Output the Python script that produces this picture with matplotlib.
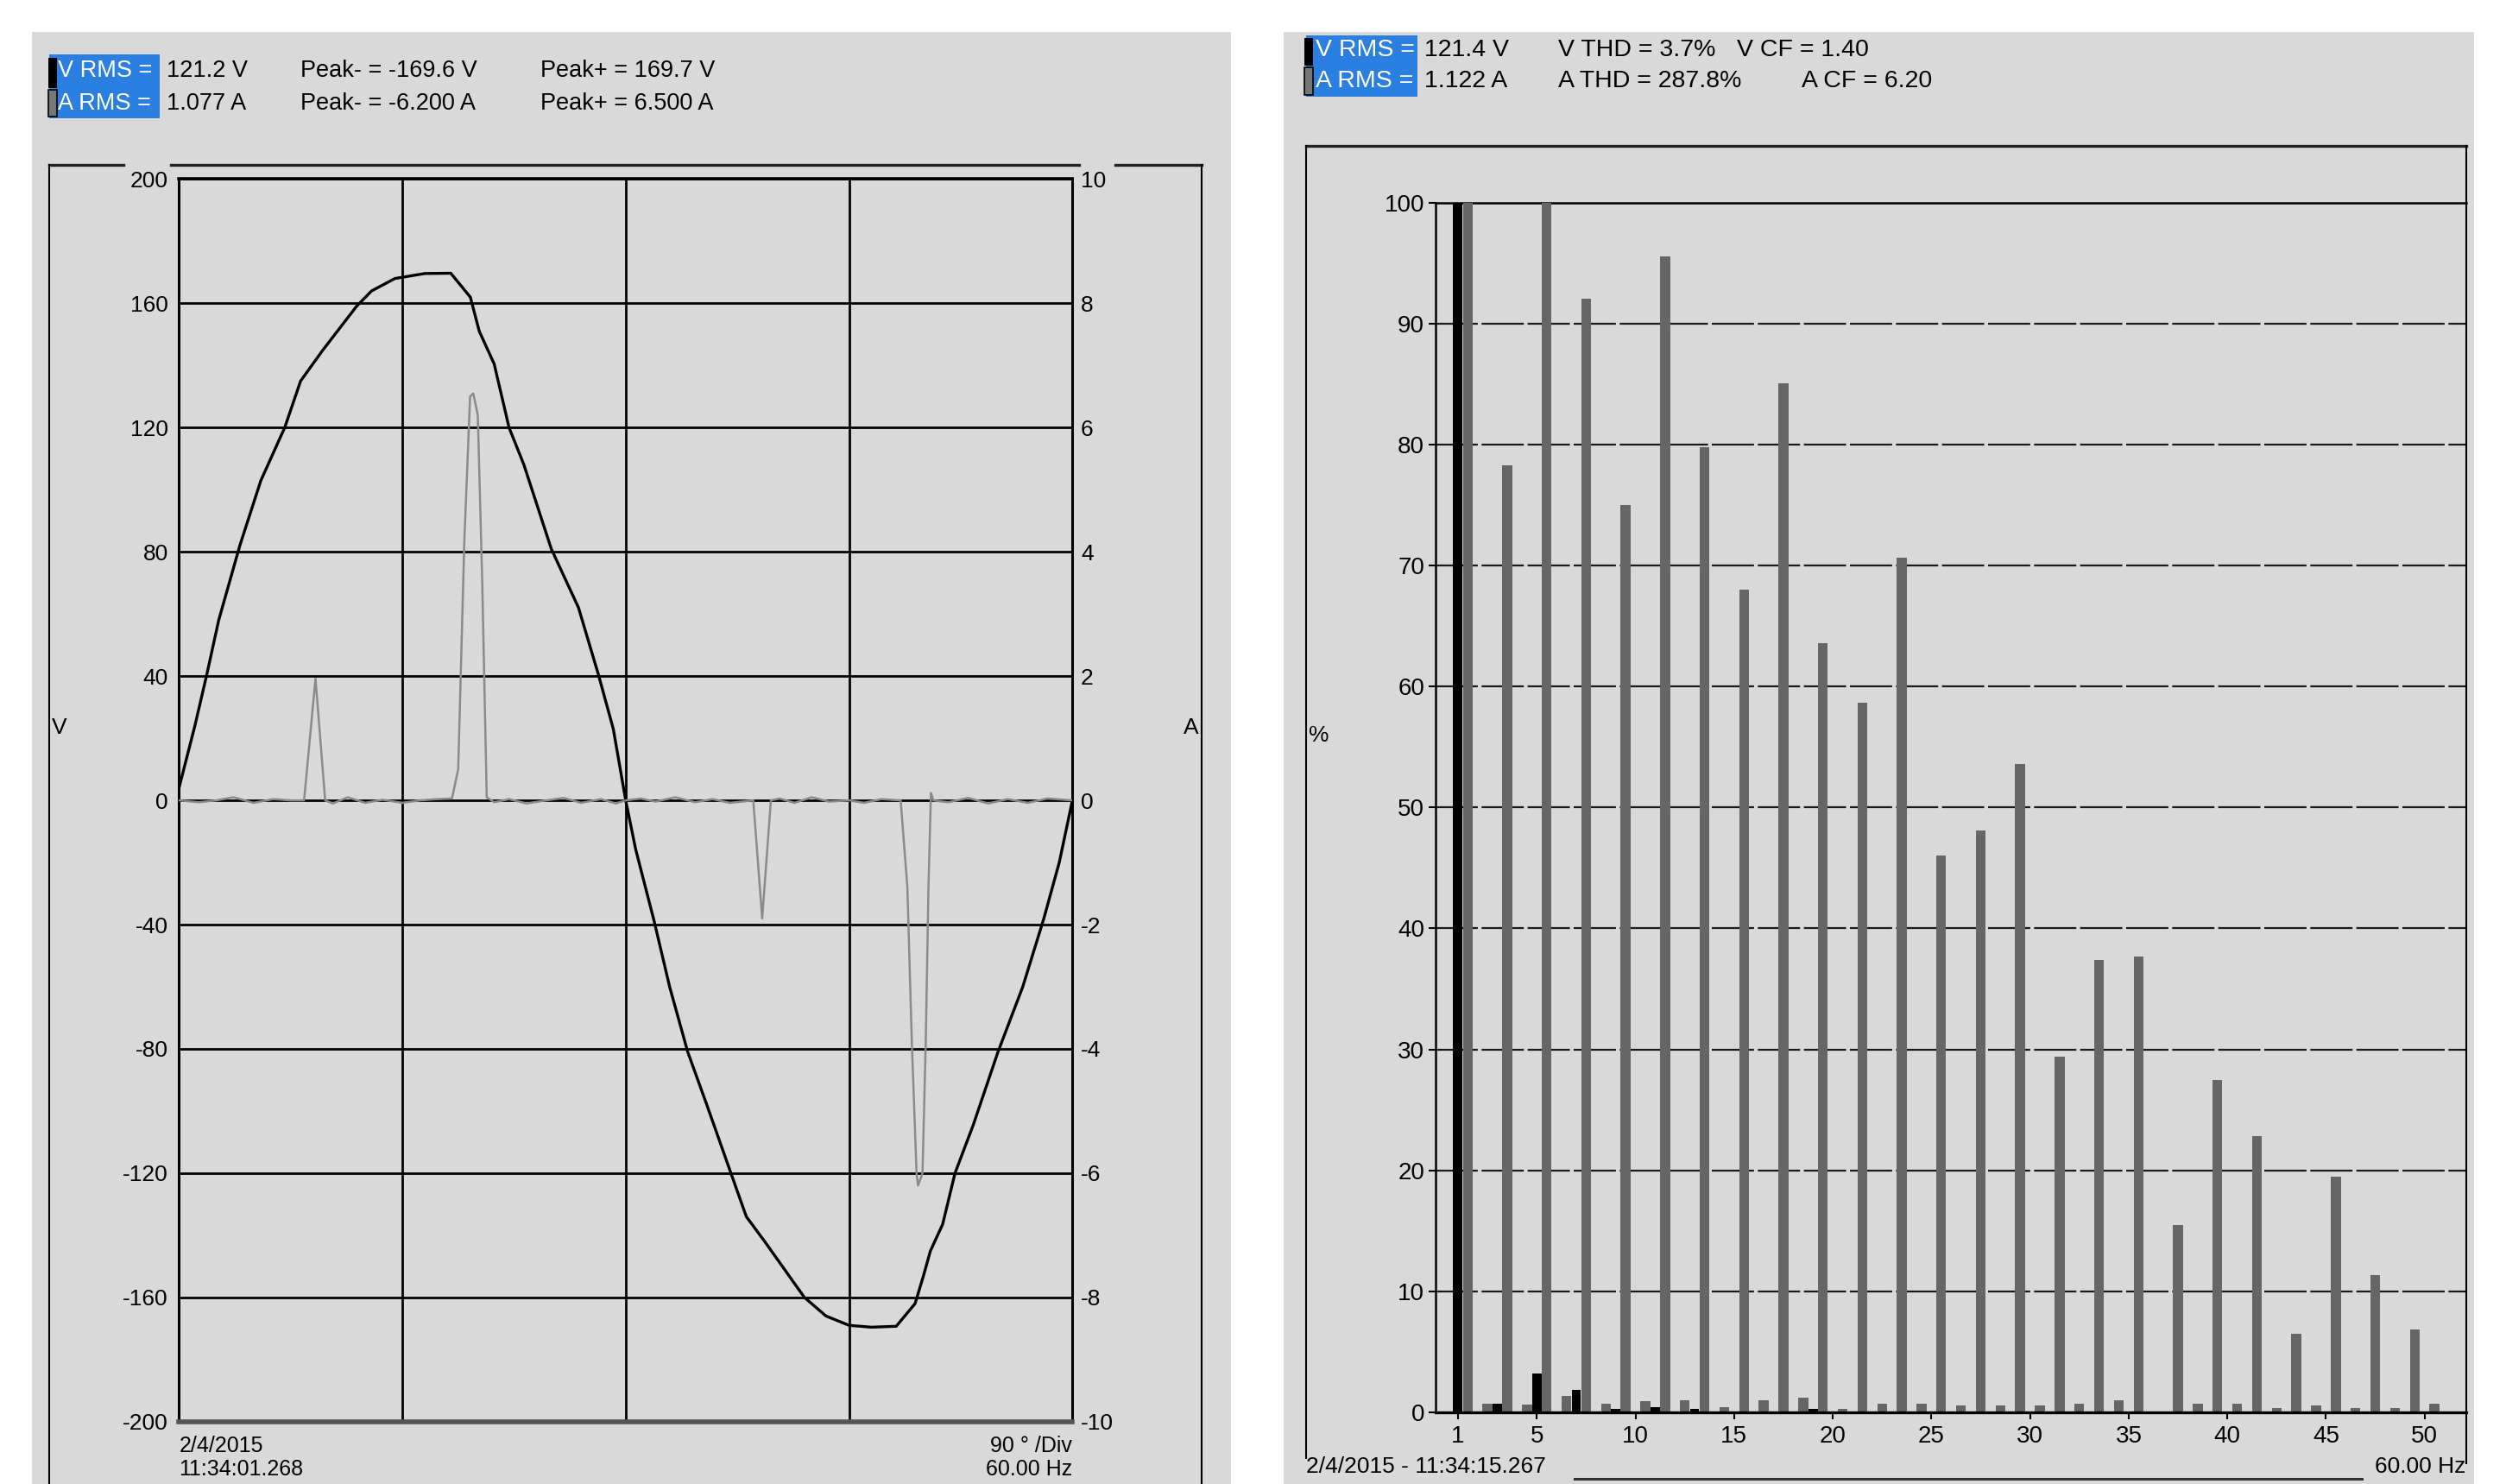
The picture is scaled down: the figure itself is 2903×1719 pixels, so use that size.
import matplotlib
matplotlib.use("Agg")
import matplotlib.pyplot as plt
from matplotlib.lines import Line2D
from matplotlib.patches import Rectangle

plt.rcParams["font.family"] = ["Liberation Sans", "DejaVu Sans"]
plt.rcParams["axes.unicode_minus"] = False

# waveform: (degrees, volts)
VOLTAGE_TRACE = [
    (0, 4), (6.4, 24), (11.2, 40.5), (16, 58), (24.5, 82), (33, 103), (42.6, 120),
    (49, 135), (58, 145), (71.5, 159), (77.6, 164), (87, 168), (99, 169.6),
    (109.5, 169.7), (117.4, 162), (121, 151), (127, 140.5), (133, 120), (139, 108),
    (150, 81), (161, 62), (169, 40.5), (175, 23), (180, 0), (184, -15.7),
    (191.5, -39), (197.7, -60), (205, -81), (212.5, -97.6), (222.4, -120),
    (228.6, -134), (236, -142), (252, -160), (260.7, -166), (270, -169),
    (279, -169.6), (289, -169.3), (296.6, -162), (300, -153), (302.8, -145),
    (307.7, -136.5), (312.7, -120), (320, -104.6), (330, -81), (340, -60),
    (348.5, -38), (354.7, -20), (360, 0),
]

# waveform: (degrees, amps)
CURRENT_TRACE = [
    (0, 0), (8, -0.03), (15, 0), (22, 0.05), (30, -0.04), (38, 0.02), (45, 0),
    (50.4, 0), (55, 1.96), (58.9, 0), (62, -0.05), (68, 0.05), (75, -0.04),
    (82, 0.01), (90, -0.04), (97, 0), (104, 0.02), (110, 0.03), (112.5, 0.5),
    (115, 4.2), (117.3, 6.5), (118.6, 6.55), (120.4, 6.2), (122.2, 3.5),
    (124, 0.05), (127, -0.03), (133, 0.02), (140, -0.05), (148, 0), (155, 0.04),
    (162, -0.04), (170, 0.02), (176, -0.05), (180, 0), (186, 0.03), (192, -0.02),
    (200, 0.05), (208, -0.03), (215, 0.02), (222, -0.04), (231.4, 0), (235, -1.9),
    (238.5, 0), (242, 0.03), (248, -0.04), (255, 0.05), (262, -0.02), (270, 0),
    (276, -0.04), (283, 0.02), (290.8, 0), (293.5, -1.4), (295.3, -3.9),
    (297.2, -6.0), (297.8, -6.2), (299.6, -6.0), (300.9, -3.9), (302, -1.4),
    (303, 0.12), (304, 0), (310, -0.03), (318, 0.04), (326, -0.05), (334, 0.02),
    (342, -0.04), (350, 0.03), (360, 0),
]

V_TICKS = [200, 160, 120, 80, 40, 0, -40, -80, -120, -160, -200]
A_TICKS = [10, 8, 6, 4, 2, 0, -2, -4, -6, -8, -10]

HARMONICS = list(range(1, 51))
V_PCT = [100, 0, 0.7, 0, 3.2, 0, 1.85, 0, 0.25, 0,
         0.4, 0, 0.25, 0, 0, 0, 0, 0, 0.25, 0,
         0, 0, 0, 0, 0, 0, 0, 0, 0, 0,
         0, 0, 0, 0, 0, 0, 0, 0, 0, 0,
         0, 0, 0, 0, 0, 0, 0, 0, 0, 0]
A_PCT = [100, 0.7, 78.3, 0.6, 100, 1.3, 92.1, 0.7, 75, 0.9,
         95.6, 1.0, 79.8, 0.4, 68, 1.0, 85.1, 1.2, 63.6, 0.25,
         58.7, 0.7, 70.7, 0.7, 46, 0.55, 48.1, 0.55, 53.6, 0.55,
         29.4, 0.7, 37.4, 1.0, 37.7, 0, 15.5, 0.7, 27.5, 0.7,
         22.8, 0.35, 6.5, 0.55, 19.5, 0.35, 11.3, 0.35, 6.8, 0.7]
H_TICKS = [1, 5, 10, 15, 20, 25, 30, 35, 40, 45, 50]
PCT_TICKS = [0, 10, 20, 30, 40, 50, 60, 70, 80, 90, 100]

BG = "#d9d9d9"
BLUE = "#2b7fe0"

W, H = 1568, 928  # layout measured on the shrunk reference


def fx(x):
    return x / W


def fy(y):
    return 1 - y / H


def fline(fig, xs, ys, lw=1.5, color="black"):
    fig.add_artist(Line2D([fx(x) for x in xs], [fy(y) for y in ys],
                          transform=fig.transFigure, lw=lw, color=color))


def frect(fig, x0, y0, x1, y1, **kw):
    fig.add_artist(Rectangle((fx(x0), fy(y1)), fx(x1) - fx(x0), fy(y0) - fy(y1),
                             transform=fig.transFigure, **kw))


def header_label(fig, x0, y0, x1, y1, ymid):
    frect(fig, x0, y0, x1, y1, facecolor=BLUE, edgecolor="none", zorder=1)
    frect(fig, x0 - 1, y0 + 2, x0 + 4.5, ymid, facecolor="black", edgecolor="none", zorder=2)
    frect(fig, x0 - 1, ymid + 1, x0 + 4.5, y1 - 1, facecolor="#777777",
          edgecolor="black", lw=1.2, zorder=2)


fig = plt.figure(figsize=(29.03, 17.19), dpi=100)
fig.patch.set_facecolor("white")

# grey panels
frect(fig, 20, 20, 770, 930, facecolor=BG, edgecolor="none", zorder=0)
frect(fig, 803, 20, 1548, 930, facecolor=BG, edgecolor="none", zorder=0)

# ---------------- left panel: waveform ----------------
header_label(fig, 31, 34, 100, 74, 55)
fs_h = 19.5
fig.text(fx(36), fy(44), "V RMS =", color="white", va="center", fontsize=fs_h, zorder=3)
fig.text(fx(36), fy(65), "A RMS =", color="white", va="center", fontsize=fs_h, zorder=3)
fig.text(fx(104), fy(44), "121.2 V", va="center", fontsize=fs_h)
fig.text(fx(104), fy(65), "1.077 A", va="center", fontsize=fs_h)
fig.text(fx(188), fy(44), "Peak- = -169.6 V", va="center", fontsize=fs_h)
fig.text(fx(188), fy(65), "Peak- = -6.200 A", va="center", fontsize=fs_h)
fig.text(fx(338), fy(44), "Peak+ = 169.7 V", va="center", fontsize=fs_h)
fig.text(fx(338), fy(65), "Peak+ = 6.500 A", va="center", fontsize=fs_h)

# outer frame with gaps for the corner labels
fline(fig, [31, 77], [103, 103], lw=2.4, color="#222222")
fline(fig, [107, 675], [103, 103], lw=2.4, color="#222222")
fline(fig, [698, 752], [103, 103], lw=2.4, color="#222222")
fline(fig, [31, 31], [103, 930], lw=1.5)
fline(fig, [752, 752], [103, 930], lw=1.5)

ax = fig.add_axes([fx(112), fy(889), fx(671) - fx(112), fy(112) - fy(889)])
ax.set_facecolor("none")
ax.set_xlim(0, 360)
ax.set_ylim(-200, 200)
ax.set_xticks([0, 90, 180, 270, 360])
ax.set_xticklabels([])
ax.set_yticks(V_TICKS)
ax.set_yticklabels([str(v) for v in V_TICKS], fontsize=19)
ax.tick_params(axis="both", length=0)
ax.tick_params(axis="y", pad=9)
ax.grid(True, color="black", lw=2.0)
ax.set_axisbelow(True)
for side in ["left", "right"]:
    ax.spines[side].set_linewidth(2.2)
ax.spines["top"].set_linewidth(2.6)
ax.spines["bottom"].set_linewidth(4)
ax.spines["bottom"].set_color("#555555")

ax.plot([p[0] for p in VOLTAGE_TRACE], [p[1] for p in VOLTAGE_TRACE],
        color="black", lw=2.4, zorder=4)

ax2 = ax.twinx()
ax2.set_ylim(-10, 10)
ax2.set_yticks(A_TICKS)
ax2.set_yticklabels([str(v) for v in A_TICKS], fontsize=19)
ax2.tick_params(axis="y", length=0, pad=7)
for s in ax2.spines.values():
    s.set_visible(False)
ax2.plot([p[0] for p in CURRENT_TRACE], [p[1] for p in CURRENT_TRACE],
         color="#8a8a8a", lw=1.8, zorder=3)

fig.text(fx(37), fy(455), "V", va="center", ha="center", fontsize=19)
fig.text(fx(745), fy(455), "A", va="center", ha="center", fontsize=19)
fig.text(fx(112), fy(904), "2/4/2015", va="center", fontsize=18)
fig.text(fx(112), fy(919), "11:34:01.268", va="center", fontsize=18)
fig.text(fx(671), fy(904), "90 ° /Div", va="center", ha="right", fontsize=18)
fig.text(fx(671), fy(919), "60.00 Hz", va="center", ha="right", fontsize=18)

# ---------------- right panel: harmonics ----------------
header_label(fig, 817, 22, 887, 60.5, 41)
fs_r = 20.5
fig.text(fx(823), fy(31.5), "V RMS =", color="white", va="center", fontsize=fs_r, zorder=3)
fig.text(fx(823), fy(51), "A RMS =", color="white", va="center", fontsize=fs_r, zorder=3)
fig.text(fx(891), fy(31.5), "121.4 V", va="center", fontsize=fs_r)
fig.text(fx(891), fy(51), "1.122 A", va="center", fontsize=fs_r)
fig.text(fx(975), fy(31.5), "V THD = 3.7%", va="center", fontsize=fs_r)
fig.text(fx(1087), fy(31.5), "V CF = 1.40", va="center", fontsize=fs_r)
fig.text(fx(975), fy(51), "A THD = 287.8%", va="center", fontsize=fs_r)
fig.text(fx(1127), fy(51), "A CF = 6.20", va="center", fontsize=fs_r)

fline(fig, [817, 1543], [91, 91], lw=2.4, color="#222222")
fline(fig, [817, 817], [91, 912], lw=1.5)
fline(fig, [1543, 1543], [91, 915], lw=1.5)
fline(fig, [985, 1478], [925, 925], lw=2.2, color="#333333")

bx = fig.add_axes([fx(898), fy(883), fx(1543) - fx(898), fy(127) - fy(883)])
bx.set_facecolor("none")
bx.set_xlim(-0.15, 52.1)
bx.set_ylim(0, 100)
for v in PCT_TICKS[1:-1]:
    ln = bx.axhline(v, color="#1a1a1a", lw=1.6, zorder=1)
    ln.set_dashes([22, 2])
bx.axhline(PCT_TICKS[-1], color="black", lw=1.8, zorder=1, clip_on=False)

bx.bar(HARMONICS, V_PCT, width=0.47, color="black", zorder=2)
bx.bar([h + 0.5 for h in HARMONICS], A_PCT, width=0.5, color="#666666", zorder=2)

bx.set_xticks(H_TICKS)
bx.set_xticklabels([str(h) for h in H_TICKS], fontsize=20)
bx.set_yticks(PCT_TICKS)
bx.set_yticklabels([str(v) for v in PCT_TICKS], fontsize=20)
bx.tick_params(axis="x", length=6, width=1.5, pad=5)
bx.tick_params(axis="y", length=6, width=1.5, pad=3)
bx.spines["top"].set_visible(False)
bx.spines["right"].set_visible(False)
bx.spines["left"].set_linewidth(1.8)
bx.spines["bottom"].set_linewidth(2.4)

fig.text(fx(825), fy(460), "%", va="center", ha="center", fontsize=19)
fig.text(fx(817), fy(917), "2/4/2015 - 11:34:15.267", va="center", fontsize=19)
fig.text(fx(1543), fy(917), "60.00 Hz", va="center", ha="right", fontsize=19)

fig.savefig("out.png", dpi=100)
